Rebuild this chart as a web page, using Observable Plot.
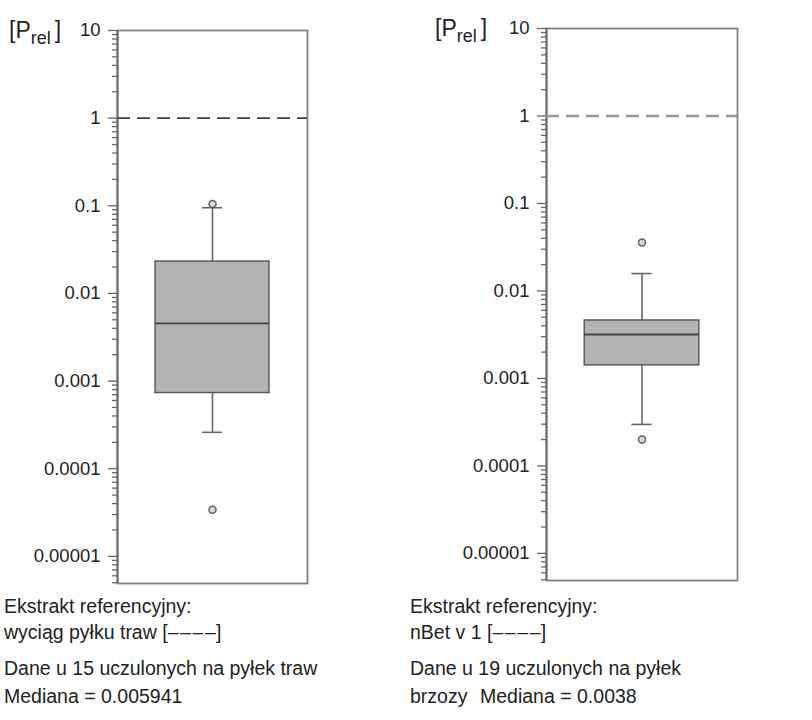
<!DOCTYPE html>
<html>
<head>
<meta charset="utf-8">
<script src="https://cdn.jsdelivr.net/npm/d3@7"></script>
<script src="https://cdn.jsdelivr.net/npm/@observablehq/plot@0.6"></script>
<style>
  html, body { margin: 0; padding: 0; background: #fff; }
  #root { position: relative; width: 812px; height: 720px; overflow: hidden; font-family: "Liberation Sans", Arial, Helvetica, sans-serif; color: #222; }
  .panel { position: absolute; top: 0; }
  .ylab { position: absolute; font-size: 23px; color: #222; line-height: 1; white-space: nowrap; }
  .ylab sub { font-size: 18px; vertical-align: -6px; }
  .ylab .gap { display: inline-block; width: 4px; }
  .cap { position: absolute; font-size: 19.5px; line-height: 1; white-space: nowrap; color: #222; }
</style>
</head>
<body>
<div id="root"></div>
<script>
// ---- data ----
const panels = ["trawy", "brzoza"];
const q1 = [0.00073, 0.00141];
const median = [0.00456, 0.00318];
const q3 = [0.0231, 0.0046];
const whiskerLow = [0.00026, 0.000298];
const whiskerHigh = [0.095, 0.0158];
const outliersTrawy = [0.105, 0.000034];
const outliersBrzoza = [0.0358, 0.000201];
const referenceLine = [1];
const majorTicks = [0.00001, 0.0001, 0.001, 0.01, 0.1, 1, 10];
const majorTickLabels = ["0.00001", "0.0001", "0.001", "0.01", "0.1", "1", "10"];
const yDomain = [4.9e-6, 10];
const captionsLeft = ["Ekstrakt referencyjny:", "wyciąg pyłku traw [\u2013\u200A\u2013\u200A\u2013\u200A\u2013]", "Dane u 15 uczulonych na pyłek traw", "Mediana = 0.005941"];
const captionsRight = ["Ekstrakt referencyjny:", "nBet v 1 [\u2013\u200A\u2013\u200A\u2013\u200A\u2013]", "Dane u 19 uczulonych na pyłek", "brzozy", "Mediana = 0.0038"];

// minor log ticks (axis decoration)
const minorTicks = [];
for (let e = -6; e <= 0; e++) for (let k = 2; k <= 9; k++) {
  const v = k * Math.pow(10, e);
  if (v >= yDomain[0] && v <= yDomain[1]) minorTicks.push(v);
}

function panel(i, outliers, opts) {
  const row = [{q1: q1[i], median: median[i], q3: q3[i], lo: whiskerLow[i], hi: whiskerHigh[i]}];
  return Plot.plot({
    width: opts.width,
    height: opts.height,
    marginLeft: opts.marginLeft,
    marginRight: opts.marginRight,
    marginTop: opts.marginTop,
    marginBottom: opts.marginBottom,
    style: {fontFamily: '"Liberation Sans", Arial, Helvetica, sans-serif', background: "transparent", overflow: "visible"},
    x: {domain: [0, 1], axis: null},
    y: {type: "log", domain: yDomain, axis: null},
    marks: [
      Plot.frame({stroke: "#808080", strokeWidth: 1.8}),
      Plot.axisY({ticks: minorTicks, tickSize: 5, tickFormat: () => "", stroke: "#666", strokeWidth: 1.3, label: null}),
      Plot.axisY({ticks: majorTicks, tickSize: 9, tickPadding: 8, tickFormat: d => majorTickLabels[majorTicks.indexOf(d)], fontSize: 18.5, fill: "#222", stroke: "#666", strokeWidth: 1.3, label: null}),
      Plot.ruleX([0], {stroke: "#666", strokeWidth: 1.8}),
      Plot.ruleY(referenceLine, {x1: 0, x2: 1, stroke: opts.dashColor, strokeWidth: opts.dashWidth, strokeDasharray: "13,7"}),
      Plot.ruleX(row, {x: 0.5, y1: "q3", y2: "hi", stroke: "#666", strokeWidth: 1.6}),
      Plot.ruleX(row, {x: 0.5, y1: "lo", y2: "q1", stroke: "#666", strokeWidth: 1.6}),
      Plot.ruleY(row, {y: "hi", x1: 0.447, x2: 0.553, stroke: "#666", strokeWidth: 1.6}),
      Plot.ruleY(row, {y: "lo", x1: 0.447, x2: 0.553, stroke: "#666", strokeWidth: 1.6}),
      Plot.rect(row, {x1: 0.2, x2: 0.8, y1: "q1", y2: "q3", fill: "#b3b3b3", stroke: "#555", strokeWidth: 1.4}),
      Plot.ruleY(row, {y: "median", x1: 0.2, x2: 0.8, stroke: "#444", strokeWidth: 1.8}),
      Plot.dot(outliers, {x: 0.5, y: d => d, r: 3.5, fill: "#d8d8d8", stroke: "#606060", strokeWidth: 1.5})
    ]
  });
}

const root = document.getElementById("root");

const left = panel(0, outliersTrawy, {width: 320, height: 588, marginLeft: 117, marginRight: 13, marginTop: 30, marginBottom: 5, dashColor: "#444", dashWidth: 1.7});
left.classList.add("panel");
left.style.left = "0px";
root.appendChild(left);

const right = panel(1, outliersBrzoza, {width: 330, height: 585, marginLeft: 126, marginRight: 13, marginTop: 28, marginBottom: 5, dashColor: "#999", dashWidth: 2.4});
right.classList.add("panel");
right.style.left = "420px";
root.appendChild(right);

function addLabel(x, y, html, cls) {
  const d = document.createElement("div");
  d.className = cls;
  d.style.left = x + "px";
  d.style.top = y + "px";
  d.innerHTML = html;
  root.appendChild(d);
}
// y-axis unit labels
addLabel(9, 19, "[P<sub>rel</sub><span class=\"gap\"></span>]", "ylab");
addLabel(435, 17, "[P<sub>rel</sub><span class=\"gap\"></span>]", "ylab");

// captions
const lineTops = [597, 623, 659, 687];
captionsLeft.forEach((t, i) => addLabel(4, lineTops[i], t, "cap"));
addLabel(410, lineTops[0], captionsRight[0], "cap");
addLabel(410, lineTops[1], captionsRight[1], "cap");
addLabel(410, lineTops[2], captionsRight[2], "cap");
addLabel(410, lineTops[3], captionsRight[3], "cap");
addLabel(480, lineTops[3], captionsRight[4], "cap");
</script>
</body>
</html>
